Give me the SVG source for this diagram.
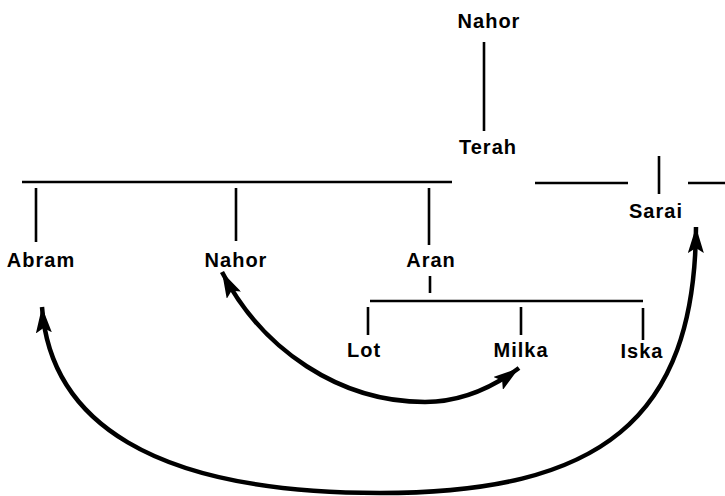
<svg xmlns="http://www.w3.org/2000/svg" width="725" height="496" viewBox="0 0 725 496">
<style>
text{font-family:"Liberation Sans",Arial,sans-serif;font-weight:bold;font-size:20px;letter-spacing:1px;fill:#000;text-anchor:middle}
.ln{stroke:#000;stroke-width:2.6;fill:none}
.arr{stroke:#000;stroke-width:4.5;fill:none;stroke-linecap:butt}
</style>
<defs>
<marker id="ah" markerUnits="userSpaceOnUse" markerWidth="28" markerHeight="16" refX="26" refY="8" orient="auto-start-reverse" viewBox="0 0 28 16">
<path d="M0,0 L26,8 L0,16 L5,8 z" fill="#000"/>
</marker>
</defs>
<rect width="725" height="496" fill="#fff"/>
<g id="connectors">
<path class="ln" d="M484,42 V131"/>
<path class="ln" d="M22,182 H452 M535,183 H628 M688,183 H725 M659,156 V194"/>
<path class="ln" d="M36,188 V242 M236,188 V241 M429,188 V245 M430,276 V293"/>
<path class="ln" d="M370,301 H643 M368,307 V335 M521,307 V335 M643,308 V340"/>
<path class="arr" d="M222,272 C262,350 340,402 425,402 C462,402 492,388 519,368" marker-start="url(#ah)" marker-end="url(#ah)"/>
<path class="arr" d="M42,307 C50,420 150,493 380,493 C600,493 695,420 696,227" marker-start="url(#ah)" marker-end="url(#ah)"/>
</g>
<g id="nahor-top"><text x="489" y="28">Nahor</text></g>
<g id="terah"><text x="488" y="154">Terah</text></g>
<g id="sarai"><text x="656" y="218">Sarai</text></g>
<g id="abram"><text x="41" y="267">Abram</text></g>
<g id="nahor"><text x="236" y="267">Nahor</text></g>
<g id="aran"><text x="431" y="267">Aran</text></g>
<g id="lot"><text x="364" y="357">Lot</text></g>
<g id="milka"><text x="521" y="357">Milka</text></g>
<g id="iska"><text x="642" y="358">Iska</text></g>
</svg>
